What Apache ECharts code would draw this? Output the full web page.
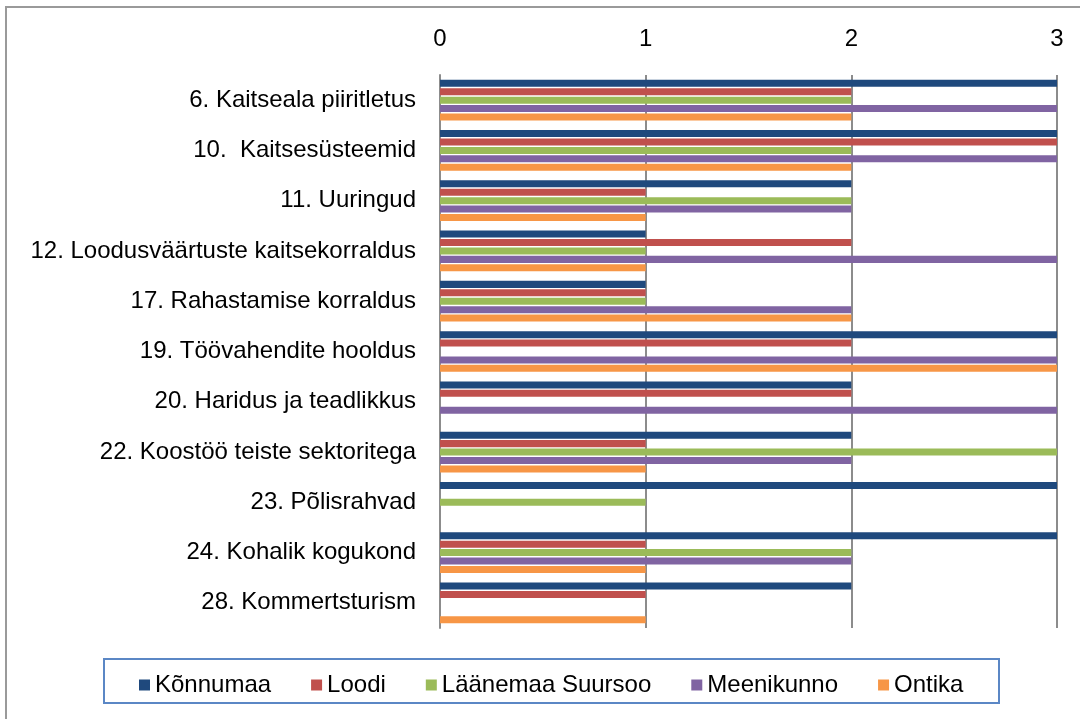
<!DOCTYPE html>
<html>
<head>
<meta charset="utf-8">
<script src="https://cdn.jsdelivr.net/npm/echarts@6/dist/echarts.min.js"></script>
<style>
  html, body { margin: 0; padding: 0; background: #fff; }
  #main { width: 1080px; height: 719px; }
</style>
</head>
<body>
<div id="main"></div>
<script>
// kategooriad (ülevalt alla)
var categories = ['6. Kaitseala piiritletus', '10.  Kaitsesüsteemid', '11. Uuringud',
    '12. Loodusväärtuste kaitsekorraldus', '17. Rahastamise korraldus', '19. Töövahendite hooldus',
    '20. Haridus ja teadlikkus', '22. Koostöö teiste sektoritega', '23. Põlisrahvad',
    '24. Kohalik kogukond', '28. Kommertsturism'];
var seriesNames = ['Kõnnumaa', 'Loodi', 'Läänemaa Suursoo', 'Meenikunno', 'Ontika'];
var konnumaa   = [3, 3, 2, 1, 1, 3, 2, 2, 3, 3, 2];
var loodi      = [2, 3, 1, 2, 1, 2, 2, 1, 0, 1, 1];
var laanemaa   = [2, 2, 2, 1, 1, 0, 0, 3, 1, 2, 0];
var meenikunno = [3, 3, 2, 3, 2, 3, 3, 2, 0, 2, 0];
var ontika     = [2, 2, 1, 1, 2, 3, 0, 1, 0, 1, 1];
var colors = ['#1F497D', '#C0504D', '#9BBB59', '#8064A2', '#F79646'];

var font = '"Liberation Sans", Arial, sans-serif';
var allValues = [konnumaa, loodi, laanemaa, meenikunno, ontika];

var series = [];
for (var i = 0; i < seriesNames.length; i++) {
    series.push({
        name: seriesNames[i],
        type: 'bar',
        data: allValues[i],
        barGap: '20%',
        barCategoryGap: '19%',
        itemStyle: { color: colors[i] },
        emphasis: { disabled: true }
    });
}

var myChart = echarts.init(document.getElementById('main'));
var option = {
    animation: false,
    color: colors,
    textStyle: { fontFamily: font },
    grid: { left: 440, right: 23, top: 75, bottom: 91, containLabel: false },
    graphic: [
        // välimine raam
        { type: 'rect', shape: { x: 6, y: 7, width: 1100, height: 730 },
          style: { fill: 'none', stroke: '#9a9a9a', lineWidth: 2 }, silent: true },
        // legendi kast
        { type: 'rect', shape: { x: 104, y: 659, width: 895, height: 44 },
          style: { fill: '#fff', stroke: '#5b87c5', lineWidth: 2 }, silent: true, z: -1 }
    ],
    legend: {
        data: seriesNames,
        left: 134,
        top: 668,
        itemWidth: 11,
        itemHeight: 11,
        itemGap: 40,
        icon: 'rect',
        textStyle: { fontSize: 24, color: '#000', fontFamily: font }
    },
    xAxis: {
        type: 'value',
        position: 'top',
        min: 0,
        max: 3,
        interval: 1,
        axisLine: { show: false },
        axisTick: { show: false },
        splitLine: { show: true, lineStyle: { color: '#8c8c8c', width: 2 } },
        axisLabel: { fontSize: 24, color: '#000', margin: 24, fontFamily: font }
    },
    yAxis: {
        type: 'category',
        inverse: true,
        data: categories,
        axisLine: { show: true, lineStyle: { color: '#8c8c8c', width: 2 } },
        axisTick: { show: false },
        axisLabel: { fontSize: 24, color: '#000', margin: 24, fontFamily: font }
    },
    series: series
};
myChart.setOption(option);
</script>
</body>
</html>
